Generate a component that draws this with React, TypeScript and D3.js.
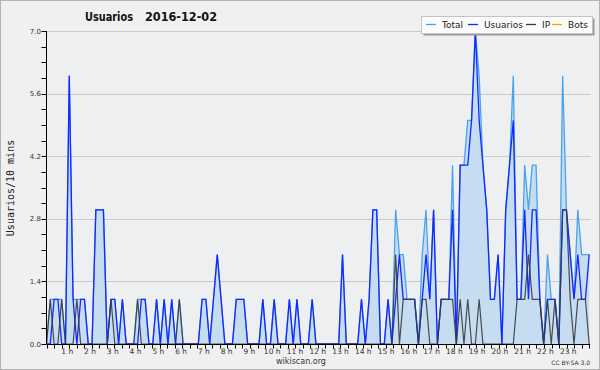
import React from "react";
import * as d3 from "d3";

const hourLabels = ["1 h","2 h","3 h","4 h","5 h","6 h","7 h","8 h","9 h","10 h","11 h","12 h","13 h","14 h","15 h","16 h","17 h","18 h","19 h","20 h","21 h","22 h","23 h"];
const yTickValues = [0, 1.4, 2.8, 4.2, 5.6, 7.0];

// 10-minute samples, 144 per day
const total = [
  0,1,1,1,1,0,6,1,1,1,1,0,
  0,3,3,3,0,1,1,0,1,0,0,0,
  1,1,1,0,0,1,0,1,0,1,0,1,
  0,0,0,0,0,1,1,0,1,2,1,0,
  0,0,1,1,1,0,0,0,0,1,0,0,
  1,0,0,0,1,0,1,0,0,0,1,0,
  0,0,0,0,0,0,2,0,0,0,0,1,
  0,1,3,3,0,0,1,0,3,2,2,1,
  1,1,0,2,3,1,3,0,1,1,1,4,
  0,4,4,5,5,7,6,4,3,1,1,2,
  0,3,4,6,1,1,4,3,4,4,1,0,
  2,1,1,0,6,3,2,1,3,2,2,2,
];
const usuarios = [
  0,0,1,1,0,0,6,1,0,1,1,0,
  0,3,3,3,0,1,1,0,1,0,0,0,
  0,1,1,0,0,1,0,1,0,1,0,0,
  0,0,0,0,0,1,1,0,1,2,1,0,
  0,0,1,1,1,0,0,0,0,1,0,0,
  1,0,0,0,1,0,1,0,0,0,1,0,
  0,0,0,0,0,0,2,0,0,0,0,1,
  0,1,3,3,0,0,1,0,1,2,1,1,
  1,1,0,1,2,1,3,0,1,1,1,3,
  0,4,4,4,5,7,5,4,3,1,1,2,
  0,3,4,5,1,1,3,1,3,3,1,0,
  1,1,1,0,3,3,2,1,2,1,1,2,
];
const ip = [
  0,1,0,0,1,0,0,0,1,0,0,0,
  0,0,0,0,0,1,0,0,0,0,0,0,
  1,0,0,0,0,0,0,0,0,0,0,1,
  0,0,0,0,0,0,0,0,0,0,0,0,
  0,0,0,0,0,0,0,0,0,0,0,0,
  0,0,0,0,0,0,0,0,0,0,0,0,
  0,0,0,0,0,0,0,0,0,0,0,0,
  0,0,0,0,0,0,0,0,2,0,1,1,
  1,1,0,1,1,0,0,0,1,1,1,1,
  0,1,0,1,0,0,1,0,0,0,0,0,
  0,0,0,0,1,1,1,2,1,1,1,0,
  1,0,1,0,3,3,1,0,1,1,1,0,
];
const legendNames = ["Total", "Usuarios", "IP", "Bots"];
const legendColors = ["#4aa2ee", "#1428ff", "#3a3a3a", "#ffa200"];

export default function App() {
  const W = 600, H = 370;
  const left = 46.5, right = 589.2, top = 31, bottom = 344;
  const n = total.length;
  const x = d3.scaleLinear().domain([0, n - 1]).range([left, right]);
  const y = d3.scaleLinear().domain([0, 7]).range([bottom, top]);
  const line = d3.line<number>().x((_, i) => x(i)).y((d) => y(d));
  const area = d3.area<number>().x((_, i) => x(i)).y0(y(0)).y1((d) => y(d));
  const minorY = d3.range(0, 21).map((k) => k * 0.35);
  const xTickPos = d3.range(0, 73).map((k) => left + (k * (right - left)) / 72);
  const legendX = [426, 468, 526, 552];
  const axisFont = "DejaVu Sans, sans-serif";

  return (
    <svg width={W} height={H} style={{ position: "absolute", left: 0, top: 0 }} xmlns="http://www.w3.org/2000/svg">
      <rect x={0.5} y={0.5} width={W - 1} height={H - 1} fill="#f0f0f0" stroke="#b4b4b4" />
      <rect x={left} y={top} width={right - left} height={bottom - top} fill="#eeeff1" />
      {yTickValues.map((v) => (
        <line key={"g" + v} x1={left} x2={right + 1} y1={Math.round(y(v)) + 0.5} y2={Math.round(y(v)) + 0.5} stroke="#cacaca" strokeWidth={1} />
      ))}
      <path d={area(total) || ""} fill="#c6dcf0" />
      <path d={line(total) || ""} fill="none" stroke={legendColors[0]} strokeWidth={1.3} />
      <path d={line(usuarios) || ""} fill="none" stroke={legendColors[1]} strokeWidth={1.3} />
      <path d={line(ip) || ""} fill="none" stroke={legendColors[2]} strokeWidth={1.2} strokeOpacity={0.9} />

      {/* axes */}
      <line x1={left} x2={left} y1={top} y2={bottom} stroke="#000" />
      <line x1={left} x2={right + 1} y1={bottom + 0.5} y2={bottom + 0.5} stroke="#000" />
      {minorY.map((v, k) => (
        <line key={"yt" + k} x1={left - 5} x2={left} y1={Math.round(y(v)) + 0.5} y2={Math.round(y(v)) + 0.5} stroke="#000" />
      ))}
      {yTickValues.map((v) => (
        <text key={"yl" + v} x={41} y={y(v) + 2.6} textAnchor="end" fontFamily={axisFont} fontSize={7} fill="#333">
          {v.toFixed(1)}
        </text>
      ))}
      {xTickPos.map((p, k) => (
        <line key={"xt" + k} x1={Math.round(p) + 0.5} x2={Math.round(p) + 0.5} y1={bottom} y2={bottom + 4.5} stroke="#000" />
      ))}
      {hourLabels.map((lab, k) => (
        <text key={lab} x={x((k + 1) * 6) - 2} y={353.5} textAnchor="middle" fontFamily={axisFont} fontSize={7.5} fill="#333">
          {lab}
        </text>
      ))}

      {/* axis title */}
      <text transform="translate(13.5,188) rotate(-90)" textAnchor="middle" fontFamily="DejaVu Sans Mono, monospace" fontSize={10} fill="#222">
        Usuarios/10 mins
      </text>

      {/* title */}
      <text x={85} y={21} fontFamily="DejaVu Sans, sans-serif" fontWeight="bold" fontSize={11.5} fill="#111" textLength={48} lengthAdjust="spacingAndGlyphs">
        Usuarios
      </text>
      <text x={145} y={21} fontFamily="DejaVu Sans, sans-serif" fontWeight="bold" fontSize={11.5} fill="#111" textLength={72} lengthAdjust="spacingAndGlyphs">
        2016-12-02
      </text>

      {/* legend */}
      <rect x={423.5} y={18.5} width={171} height={17} fill="#9a9a9a" />
      <rect x={421.5} y={16.5} width={171} height={17} fill="#fbfbfb" stroke="#c4c4c4" />
      {legendNames.map((nm, k) => (
        <g key={nm}>
          <line x1={legendX[k]} x2={legendX[k] + 10} y1={24.5} y2={24.5} stroke={legendColors[k]} strokeWidth={1.3} />
          <text x={legendX[k] + 16} y={28.2} fontFamily={axisFont} fontSize={9} fill="#222">
            {nm}
          </text>
        </g>
      ))}

      {/* footer */}
      <text x={301} y={364} textAnchor="middle" fontFamily={axisFont} fontSize={8} fill="#333">
        wikiscan.org
      </text>
      <text x={590} y={365} textAnchor="end" fontFamily={axisFont} fontSize={6} fill="#333">
        CC BY-SA 3.0
      </text>
    </svg>
  );
}
